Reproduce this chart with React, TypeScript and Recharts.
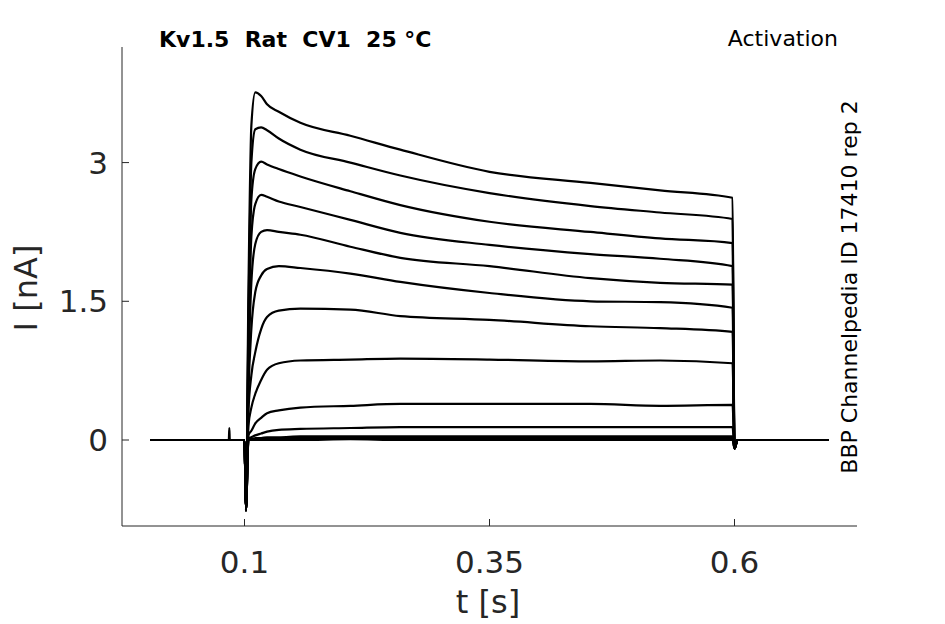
import { Line, LineChart, XAxis, YAxis } from 'recharts'

// sample times (s) and current traces (nA)
const time = [0.004, 0.084, 0.0845, 0.085, 0.1, 0.1015, 0.104, 0.107, 0.111, 0.117, 0.123, 0.135, 0.157, 0.208, 0.259, 0.35, 0.453, 0.524, 0.598, 0.6, 0.603, 0.696]

const trace1 = [0, 0, 0, 0, 0, -0.76, 1.6, 3.4, 3.76, 3.72, 3.63, 3.55, 3.43, 3.29, 3.14, 2.9, 2.78, 2.7, 2.62, -0.09, 0, 0]
const trace2 = [0, 0, 0, 0, 0, -0.76, 1.3, 3.0, 3.36, 3.38, 3.35, 3.26, 3.14, 3.0, 2.86, 2.67, 2.53, 2.46, 2.39, -0.09, 0, 0]
const trace3 = [0, 0, 0, 0, 0, -0.76, 1.1, 2.6, 2.93, 3.01, 2.98, 2.93, 2.85, 2.69, 2.54, 2.36, 2.25, 2.18, 2.13, -0.09, 0, 0]
const trace4 = [0, 0, 0, 0, 0, -0.76, 0.9, 2.2, 2.55, 2.65, 2.63, 2.58, 2.52, 2.38, 2.24, 2.11, 2.01, 1.96, 1.88, -0.09, 0, 0]
const trace5 = [0, 0, 0, 0, 0, -0.76, 0.7, 1.7, 2.12, 2.25, 2.27, 2.25, 2.22, 2.09, 1.97, 1.88, 1.75, 1.7, 1.68, -0.09, 0, 0]
const trace6 = [0, 0, 0, 0, 0, -0.76, 0.5, 1.2, 1.6, 1.78, 1.85, 1.88, 1.86, 1.8, 1.71, 1.59, 1.5, 1.49, 1.43, -0.09, 0, 0]
const trace7 = [0, 0, 0, 0, 0, -0.76, 0.3, 0.7, 0.95, 1.2, 1.33, 1.4, 1.42, 1.41, 1.34, 1.3, 1.23, 1.21, 1.17, -0.09, 0, 0]
const trace8 = [0, 0, 0, 0, 0, -0.76, 0.15, 0.35, 0.5, 0.65, 0.76, 0.83, 0.86, 0.87, 0.88, 0.87, 0.85, 0.86, 0.83, -0.09, 0, 0]
const trace9 = [0, 0, 0, 0, 0, -0.76, 0.05, 0.1, 0.18, 0.24, 0.29, 0.32, 0.35, 0.37, 0.39, 0.39, 0.39, 0.37, 0.38, -0.09, 0, 0]
const trace10 = [0, 0, 0, 0, 0, -0.76, 0.02, 0.03, 0.05, 0.07, 0.09, 0.11, 0.12, 0.13, 0.14, 0.14, 0.14, 0.14, 0.14, -0.09, 0, 0]
const trace11 = [0, 0, 0, 0, 0, -0.76, 0.01, 0.01, 0.02, 0.02, 0.03, 0.03, 0.04, 0.04, 0.04, 0.04, 0.04, 0.04, 0.04, -0.09, 0, 0]
const trace12 = [0, 0, 0, 0, 0, -0.76, 0, 0.01, 0.01, 0.01, 0.02, 0.02, 0.02, 0.02, 0.02, 0.02, 0.02, 0.02, 0.02, -0.09, 0, 0]
const trace13 = [0, 0, 0.13, 0, 0, -0.76, 0, 0, 0, 0, 0, 0, 0, 0.01, 0, 0, 0, 0, 0, -0.09, 0, 0]

const traces = [trace1, trace2, trace3, trace4, trace5, trace6, trace7, trace8, trace9, trace10, trace11, trace12, trace13]

const xTicks = [0.1, 0.35, 0.6]
const yTicks = [0, 1.5, 3]

const title = 'Kv1.5  Rat  CV1  25 °C'
const protocol = 'Activation'
const source = 'BBP Channelpedia ID 17410 rep 2'

const data = time.map((t, i) => {
  const row: Record<string, number> = { t }
  traces.forEach((tr, k) => {
    row['i' + k] = tr[i]
  })
  return row
})

const font = 'DejaVu Sans, sans-serif'
const axisColor = '#262626'

export default function App() {
  return (
    <div style={{ position: 'absolute', left: 0, top: 0, width: 945, height: 624, background: '#fff' }}>
      <LineChart width={945} height={624} data={data} margin={{ top: 47, right: 88, bottom: 38, left: 0 }}>
        <XAxis
          dataKey="t"
          type="number"
          domain={[-0.025, 0.725]}
          allowDataOverflow
          ticks={xTicks}
          interval={0}
          height={60}
          tickSize={-7}
          tickMargin={32}
          tickFormatter={(v) => String(v)}
          tick={{ fontSize: 31, fill: axisColor, fontFamily: font }}
          axisLine={{ stroke: axisColor }}
          tickLine={{ stroke: axisColor }}
        />
        <YAxis
          type="number"
          domain={[-0.93, 4.25]}
          allowDataOverflow
          ticks={yTicks}
          interval={0}
          width={122}
          tickSize={-7}
          tickMargin={21}
          tickFormatter={(v) => String(v)}
          tick={{ fontSize: 31, fill: axisColor, fontFamily: font }}
          axisLine={{ stroke: axisColor }}
          tickLine={{ stroke: axisColor }}
        />
        {traces.map((_, k) => (
          <Line
            key={k}
            type="monotone"
            dataKey={'i' + k}
            stroke="#000"
            strokeWidth={2.2}
            dot={false}
            isAnimationActive={false}
          />
        ))}
      </LineChart>
      <svg
        width={945}
        height={624}
        style={{ position: 'absolute', left: 0, top: 0, pointerEvents: 'none' }}
      >
        <text x={159} y={47} fontFamily={font} fontSize={22} fontWeight="bold" fill="#000" style={{ whiteSpace: 'pre' }}>
          {title}
        </text>
        <text x={838} y={46} fontFamily={font} fontSize={22} fill="#000" textAnchor="end">
          {protocol}
        </text>
        <text
          x={857}
          y={287}
          fontFamily={font}
          fontSize={22}
          fill="#000"
          textAnchor="middle"
          transform="rotate(-90 857 287)"
        >
          {source}
        </text>
        <text
          x={37}
          y={288}
          fontFamily={font}
          fontSize={32}
          fill={axisColor}
          textAnchor="middle"
          transform="rotate(-90 37 288)"
        >
          I [nA]
        </text>
        <text x={488} y={613} fontFamily={font} fontSize={32} fill={axisColor} textAnchor="middle">
          t [s]
        </text>
      </svg>
    </div>
  )
}
